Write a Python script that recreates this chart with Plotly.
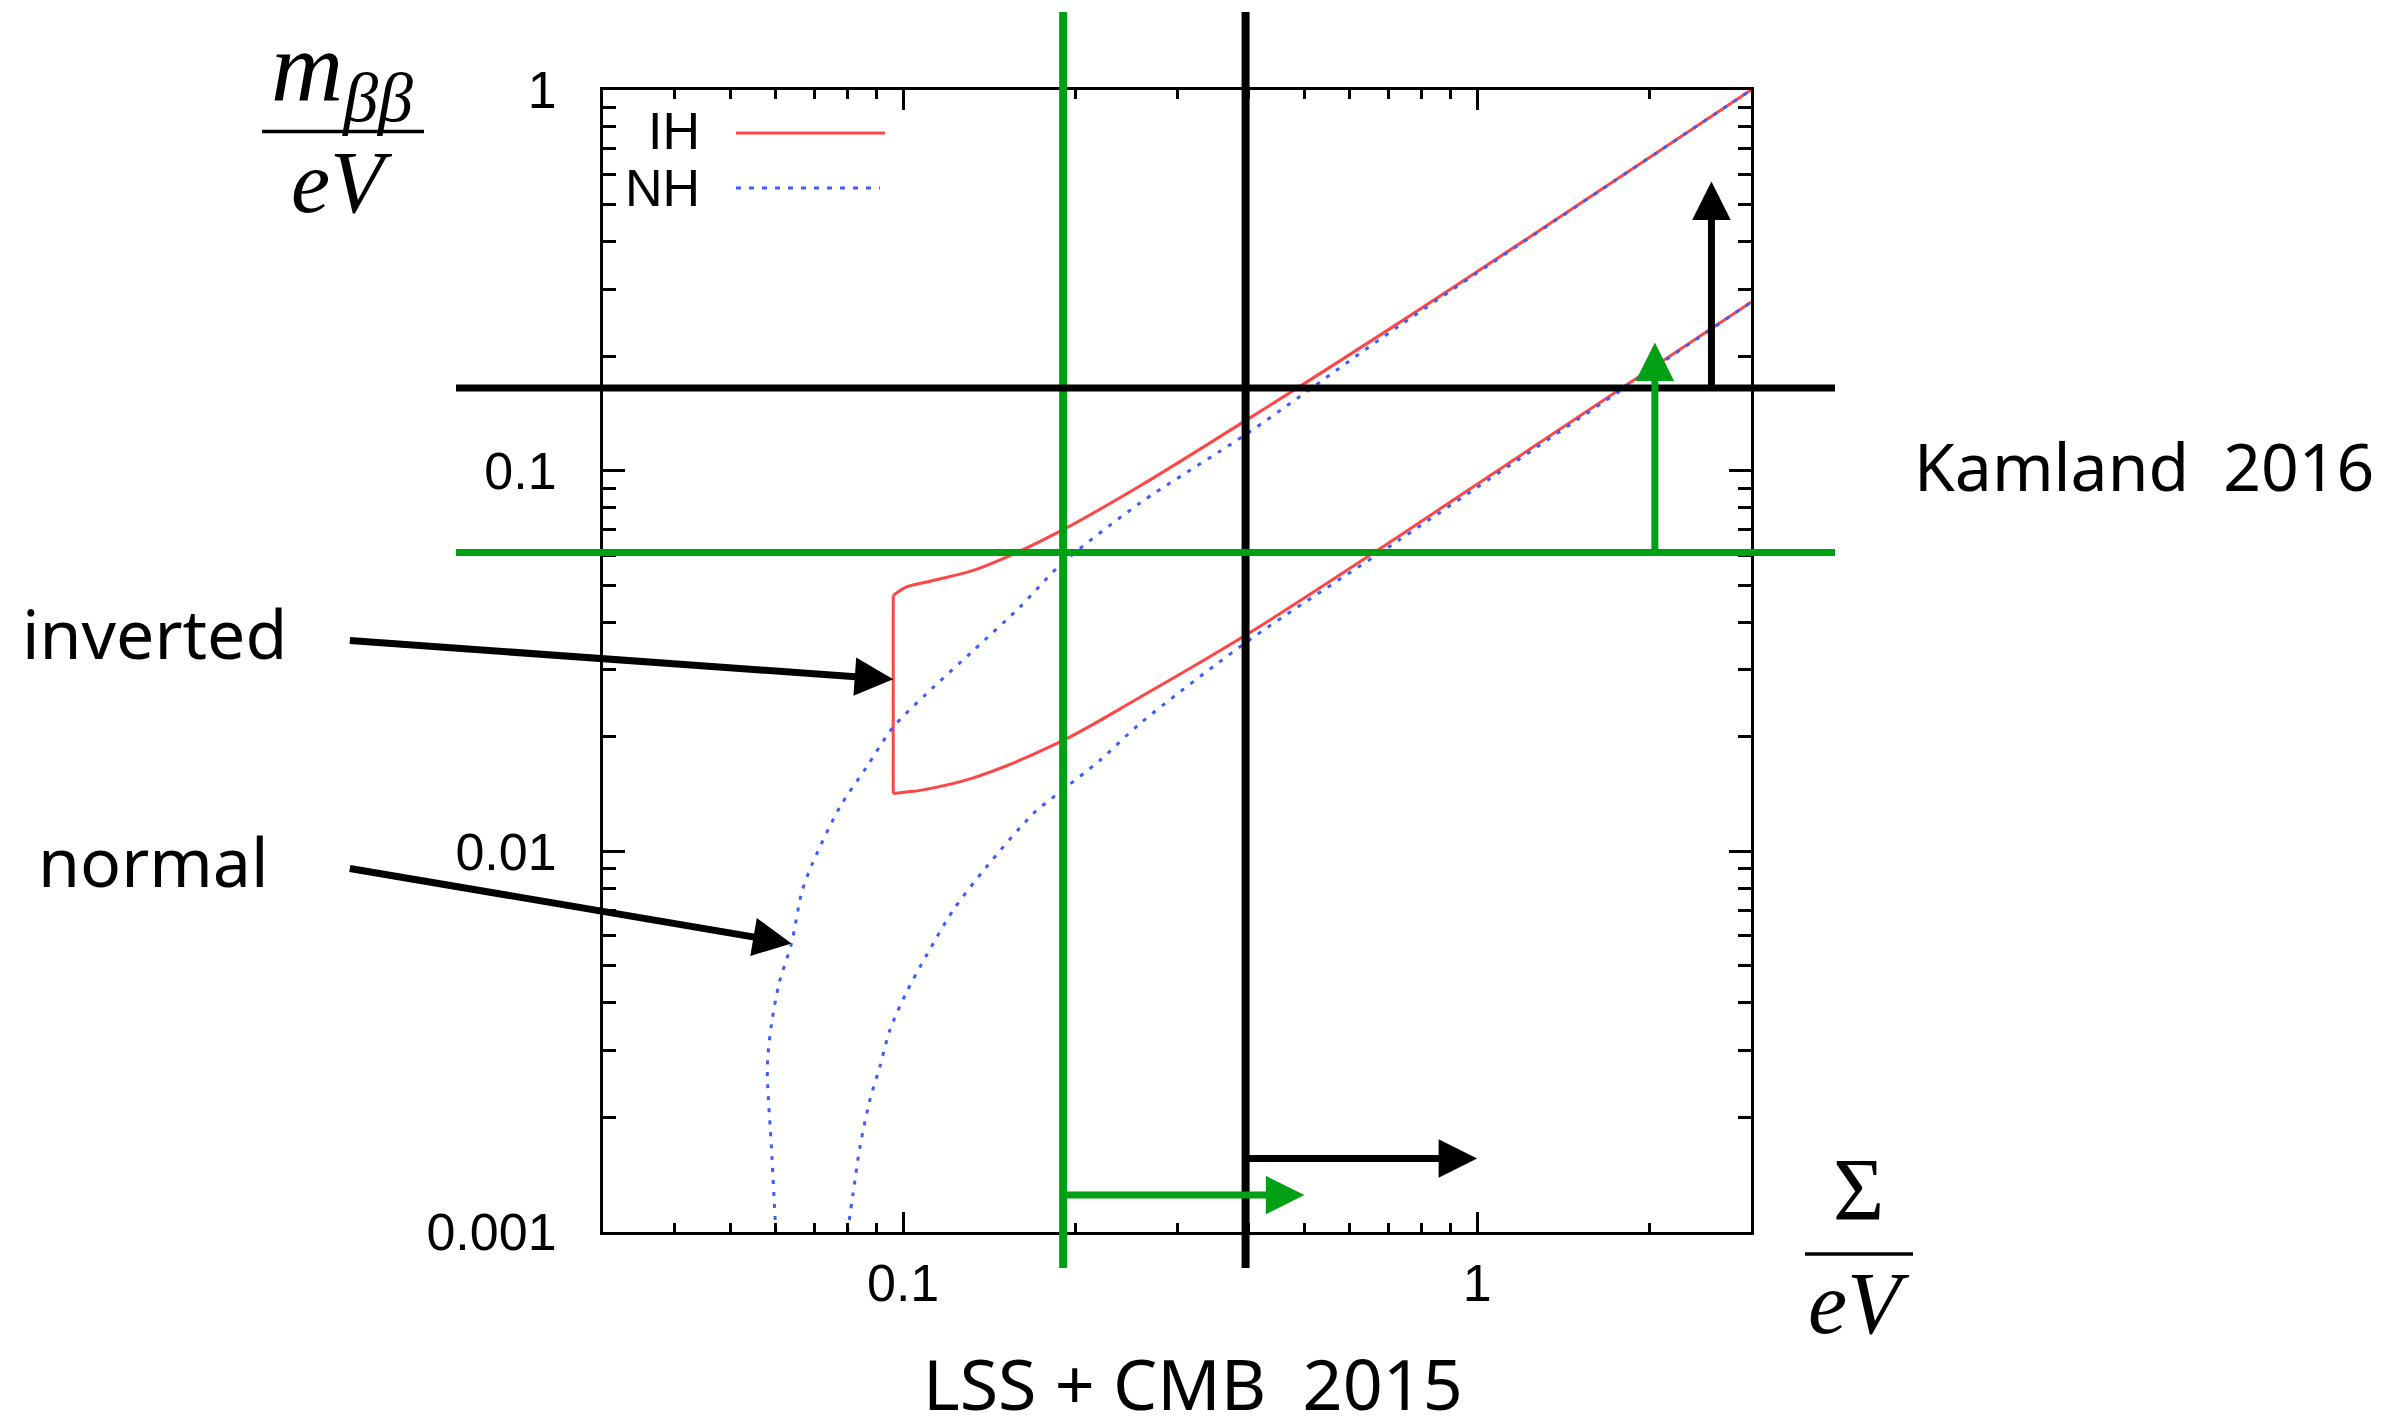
import numpy as np
import plotly.graph_objects as go

# ---------------- data ----------------
# Inverted hierarchy band: upper and lower edge of m_bb versus Sigma (eV)
ih_upper_sigma = [0.0961, 0.1014, 0.1099, 0.1325, 0.1515, 0.189, 0.258, 0.400, 0.734, 3.0]
ih_upper_m = [0.0470, 0.0495, 0.0510, 0.0547, 0.0593, 0.0697, 0.091, 0.137, 0.2456, 1.0]
ih_lower_sigma = [0.0961, 0.1014, 0.107, 0.1325, 0.1876, 0.2586, 0.400, 0.734, 3.0]
ih_lower_m = [0.01418, 0.01432, 0.01446, 0.01560, 0.01938, 0.0254, 0.0374, 0.0676, 0.277]

# Normal hierarchy band: upper and lower edge
nh_upper_sigma = [0.0600, 0.0590, 0.0580, 0.0590, 0.0608, 0.0639, 0.0666, 0.0693, 0.0776,
                  0.0864, 0.0961, 0.1099, 0.1325, 0.1597, 0.1876, 0.258, 0.400, 0.734, 3.0]
nh_upper_m = [0.0010, 0.00164, 0.00272, 0.00353, 0.0045, 0.00573, 0.00782, 0.0092, 0.01308,
              0.01667, 0.0212, 0.02597, 0.0337, 0.0438, 0.0564, 0.082, 0.126, 0.241, 1.0]
nh_lower_sigma = [0.0800, 0.0818, 0.0841, 0.0875, 0.0911, 0.0948, 0.1014, 0.1099, 0.1222,
                  0.1397, 0.1686, 0.1876, 0.2203, 0.2586, 0.400, 0.734, 3.0]
nh_lower_m = [0.0010, 0.00126, 0.001675, 0.00222, 0.00272, 0.00339, 0.00427, 0.00534, 0.0070,
              0.0091, 0.01257, 0.01432, 0.01735, 0.02166, 0.0358, 0.066, 0.277]

# Experimental bounds
sigma_limits = [0.19, 0.395]          # cosmology bounds on Sigma (vertical lines)
mbb_limits = [0.061, 0.165]           # KamLAND 2016 bounds on m_bb (horizontal lines)

# Arrows attached to the bounds
sigma_arrow_m = [0.00125, 0.00156]    # height of the horizontal arrows
sigma_arrow_end = [0.5, 1.0]          # where the horizontal arrows end
mbb_arrow_sigma = [2.04, 2.56]        # position of the vertical arrows
mbb_arrow_end = [0.217, 0.575]        # where the vertical arrows end

# Pointer labels for the two hierarchies
pointer_text = ["inverted", "normal"]
pointer_tip_sigma = [0.0961, 0.0639]
pointer_tip_m = [0.0283, 0.00573]
pointer_tail_sigma = [0.0108, 0.0108]
pointer_tail_m = [0.0358, 0.00903]

x_tick_vals = [0.1, 1]
x_tick_text = ["0.1", "1"]
y_tick_vals = [0.001, 0.01, 0.1, 1]
y_tick_text = ["0.001", "0.01", "0.1", "1"]
x_minor = [0.04, 0.05, 0.06, 0.07, 0.08, 0.09, 0.2, 0.3, 0.4, 0.5, 0.6, 0.7, 0.8, 0.9, 2]
y_minor = [k * 10.0 ** e for e in (-3, -2, -1) for k in range(2, 10)]

# ---------------- styling ----------------
W, H = 2402, 1419
L, R, T, B = 603, 651, 90, 187
RED = "#ff4646"
BLUE = "#3c5cff"
GREEN = "#00a014"
BLACK = "#000000"
bound_colors = [GREEN, BLACK]
HAND = "Noto Sans"
SERIF = "Liberation Serif"
SANS = "Liberation Sans"


def px(xp):
    return (xp - L) / (W - L - R)


def py(yp):
    return (H - B - yp) / (H - T - B)


fig = go.Figure()

# IH: upper edge, closing vertical segment at the smallest Sigma, lower edge
fig.add_trace(go.Scatter(x=ih_upper_sigma, y=ih_upper_m, mode="lines",
                         line=dict(color=RED, width=3, shape="spline", smoothing=1.0),
                         hoverinfo="skip"))
fig.add_trace(go.Scatter(x=[ih_upper_sigma[0], ih_lower_sigma[0]], y=[ih_upper_m[0], ih_lower_m[0]],
                         mode="lines", line=dict(color=RED, width=3), hoverinfo="skip"))
fig.add_trace(go.Scatter(x=ih_lower_sigma, y=ih_lower_m, mode="lines",
                         line=dict(color=RED, width=3, shape="spline", smoothing=1.0),
                         hoverinfo="skip"))

for xs, ys in ((nh_upper_sigma, nh_upper_m), (nh_lower_sigma, nh_lower_m)):
    fig.add_trace(go.Scatter(x=xs, y=ys, mode="lines",
                             line=dict(color=BLUE, width=3, dash="4px,8px", shape="spline", smoothing=0.8),
                             hoverinfo="skip"))

shapes = []
# vertical bound lines (extend above and below the frame)
for s, c in zip(sigma_limits, bound_colors):
    shapes.append(dict(type="line", xref="x", yref="paper",
                       x0=s, x1=s, y0=py(1268), y1=py(12),
                       line=dict(color=c, width=8)))
# horizontal bound lines
for m, c in zip(mbb_limits, bound_colors):
    shapes.append(dict(type="line", xref="paper", yref="y",
                       x0=px(456), x1=px(1835), y0=m, y1=m,
                       line=dict(color=c, width=7)))
# legend samples
shapes.append(dict(type="line", xref="paper", yref="paper", x0=px(736), x1=px(885),
                   y0=py(133), y1=py(133), line=dict(color=RED, width=3)))
shapes.append(dict(type="line", xref="paper", yref="paper", x0=px(736), x1=px(880),
                   y0=py(188), y1=py(188), line=dict(color=BLUE, width=3, dash="5px,8px")))
# fraction bars of the axis titles
shapes.append(dict(type="line", xref="paper", yref="paper", x0=px(262), x1=px(424),
                   y0=py(131.5), y1=py(131.5), line=dict(color=BLACK, width=3.5)))
shapes.append(dict(type="line", xref="paper", yref="paper", x0=px(1805), x1=px(1913),
                   y0=py(1254), y1=py(1254), line=dict(color=BLACK, width=3.5)))

annotations = []


def arrow(x_tip, y_tip, x_tail, y_tail, color):
    return dict(xref="x", yref="y", axref="x", ayref="y",
                x=np.log10(x_tip), y=np.log10(y_tip),
                ax=np.log10(x_tail), ay=np.log10(y_tail),
                text="", showarrow=True, arrowhead=2, arrowsize=1.1,
                arrowwidth=7, arrowcolor=color, standoff=0, startstandoff=0,
                font=dict(size=1))


for s, m_y, s_end, c in zip(sigma_limits, sigma_arrow_m, sigma_arrow_end, bound_colors):
    annotations.append(arrow(s_end, m_y, s, m_y, c))
for m, s_x, m_end, c in zip(mbb_limits, mbb_arrow_sigma, mbb_arrow_end, bound_colors):
    annotations.append(arrow(s_x, m_end, s_x, m, c))
for ts, tm, ss, sm in zip(pointer_tip_sigma, pointer_tip_m, pointer_tail_sigma, pointer_tail_m):
    annotations.append(arrow(ts, tm, ss, sm, BLACK))


def label(text, xc, yc, size, family, xanchor="center"):
    return dict(xref="paper", yref="paper", x=px(xc), y=py(yc), text=text,
                showarrow=False, xanchor=xanchor, yanchor="middle",
                font=dict(family=family, size=size, color=BLACK))


annotations += [
    label(pointer_text[0], 154, 632, 68, HAND),
    label(pointer_text[1], 153, 861, 68, HAND),
    label("Kamland  2016", 2144, 465, 66, HAND),
    label("LSS + CMB  2015", 1193, 1383, 70, HAND),
    label("<i>m</i><sub><i>ββ</i></sub>", 342, 74, 100, SERIF),
    label("<i>eV</i>", 342, 182, 88, SERIF),
    label("Σ", 1859, 1189, 88, SERIF),
    label("<i>eV</i>", 1859, 1303, 88, SERIF),
    label("IH", 702, 131, 52, SANS, xanchor="right"),
    label("NH", 702, 188, 52, SANS, xanchor="right"),
]

axis_common = dict(type="log", showgrid=False, zeroline=False, showline=True,
                   linecolor=BLACK, linewidth=3, mirror="ticks", ticks="inside",
                   tickwidth=3, tickcolor=BLACK, tickmode="array",
                   tickfont=dict(family=SANS, size=52, color=BLACK))

fig.update_xaxes(**axis_common, range=[np.log10(0.03), np.log10(3)],
                 tickvals=x_tick_vals, ticktext=x_tick_text, ticklen=20,
                 ticklabelstandoff=4,
                 minor=dict(tickmode="array", tickvals=x_minor, ticks="inside",
                            ticklen=9, tickwidth=3, tickcolor=BLACK, showgrid=False))
fig.update_yaxes(**axis_common, range=[-3, 0],
                 tickvals=y_tick_vals, ticktext=y_tick_text, ticklen=22,
                 ticklabelstandoff=33,
                 minor=dict(tickmode="array", tickvals=y_minor, ticks="inside",
                            ticklen=13, tickwidth=3, tickcolor=BLACK, showgrid=False))

fig.update_layout(width=W, height=H, margin=dict(l=L, r=R, t=T, b=B, pad=0),
                  plot_bgcolor="white", paper_bgcolor="white", showlegend=False,
                  shapes=shapes, annotations=annotations)

fig.write_html("out.html")
